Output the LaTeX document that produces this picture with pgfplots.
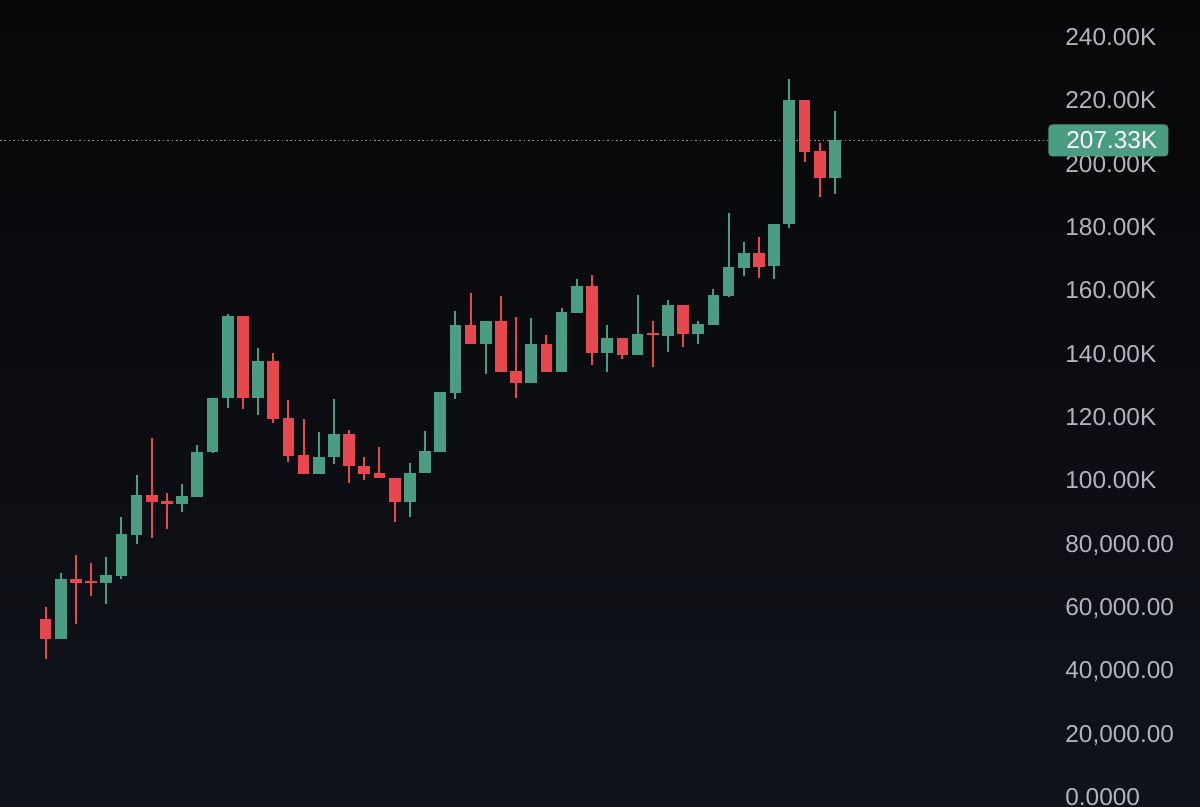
\documentclass[border=0pt]{standalone}
\usepackage{pgfplots}
\pgfplotsset{compat=1.18}
\usepackage{pgfplotstable}
\usepackage{fontspec}
\setmainfont{Liberation Sans}
\definecolor{bgtop}{HTML}{070708}
\definecolor{bgbot}{HTML}{10131B}
\definecolor{cgreen}{HTML}{4A9C82}
\definecolor{cred}{HTML}{E6484E}
\definecolor{lbl}{HTML}{B2B5BE}
\definecolor{dotc}{HTML}{6FA495}

\pgfplotstableread{
k o h l c
1 49895 70737 49895 68842
4 67579 75789 60947 70105
5 69789 88421 68842 83053
6 82737 101684 79895 95368
9 92526 98842 90000 95053
10 94737 111158 94737 108947
11 108947 126000 108631 126000
12 126000 152526 122842 151895
14 126000 141789 120632 137684
18 102000 115263 102000 107368
19 107368 125684 105158 114632
24 93158 105474 88421 102316
25 102316 115579 102316 109263
26 108947 127895 108947 127895
27 127579 153474 125684 149053
29 143053 150316 133579 150316
32 130737 151263 130737 143053
34 134211 154421 134211 153158
35 152842 163579 152842 161368
37 140211 149053 134211 144947
39 139579 158526 139579 146211
41 145579 156947 140526 155368
43 146211 150316 143053 149368
44 149053 160421 149053 158526
45 158211 184421 157895 167368
46 167053 175263 164526 171789
48 167684 180947 163579 180947
49 180947 226737 179684 220105
52 195474 216632 190421 207330
}\greentab

\pgfplotstableread{
k o h l c
0 56211 60000 43579 49895
2 68842 76421 54632 67579
3 68211 73895 63474 67579
7 95368 113368 81789 93158
8 93474 96000 84632 92526
13 151895 151895 122526 126000
15 137684 140211 118105 119368
16 119684 125368 105789 107684
17 108000 119368 102000 102000
20 114632 115895 99158 104526
21 104526 107368 100105 102000
22 102316 110526 100737 100737
23 100737 100737 86842 93158
28 149053 159158 143053 143053
30 150316 158211 134211 134211
31 134526 151579 126000 130737
33 143053 145895 134211 134211
36 161368 164842 136421 140211
38 144947 144947 138316 139579
40 146526 150316 135789 145895
42 155368 155368 142105 146211
47 171789 176842 163895 167368
50 220105 220105 200526 203684
51 204000 206526 189474 195474
}\redtab

\pgfplotsset{candle/.style={only marks, mark size=0pt, mark options={draw=none, fill=none},
  error bars/.cd, y dir=both, y explicit, error mark=none}}

\begin{document}
\begin{tikzpicture}
\fill[top color=bgtop, bottom color=bgbot] (0,0) rectangle (600pt,403.5pt);
\useasboundingbox (0,0) rectangle (600pt,403.5pt);
\begin{axis}[
  at={(0,0)}, anchor=south west,
  scale only axis,
  width=524pt, height=403.5pt,
  xmin=-3, xmax=66.04,
  ymin=-3158, ymax=251684,
  clip=false,
  axis line style={draw=none},
  major tick length=0pt,
  xtick=\empty,
  ytick={0,20000,40000,60000,80000,100000,120000,140000,160000,180000,200000,220000,240000},
  yticklabels={0.0000,{20,000.00},{40,000.00},{60,000.00},{80,000.00},100.00K,120.00K,140.00K,160.00K,180.00K,200.00K,220.00K,240.00K},
  yticklabel pos=right,
  yticklabel style={anchor=base west, inner sep=0pt, xshift=8.5pt, yshift=-4.2pt, text=lbl, font=\fontsize{12.2}{14}\selectfont},
]
% dotted last-price line
\addplot[color=dotc, line width=0.8pt, dash pattern=on 0.8pt off 1.4pt] coordinates {(-3,207330) (66.04,207330)};
% wicks
\addplot[candle, error bar style={line width=1pt, color=cgreen}]
  table[x=k, y expr={(\thisrow{h}+\thisrow{l})/2}, y error expr={(\thisrow{h}-\thisrow{l})/2}] {\greentab};
\addplot[candle, error bar style={line width=1pt, color=cred}]
  table[x=k, y expr={(\thisrow{h}+\thisrow{l})/2}, y error expr={(\thisrow{h}-\thisrow{l})/2}] {\redtab};
% bodies
\addplot[candle, error bar style={line width=5.85pt, color=cgreen}]
  table[x=k, y expr={(\thisrow{o}+\thisrow{c})/2}, y error expr={abs(\thisrow{c}-\thisrow{o})/2+150}] {\greentab};
\addplot[candle, error bar style={line width=5.85pt, color=cred}]
  table[x=k, y expr={(\thisrow{o}+\thisrow{c})/2}, y error expr={abs(\thisrow{c}-\thisrow{o})/2+150}] {\redtab};
% last price label
\node[fill=cgreen, rounded corners=2pt, anchor=west, inner xsep=9pt, inner ysep=0pt,
  minimum height=16pt, text width=42pt, text=white, font=\fontsize{12.2}{14}\selectfont]
  at (axis cs:66.04,207330) {207.33K};
\end{axis}
\end{tikzpicture}
\end{document}
